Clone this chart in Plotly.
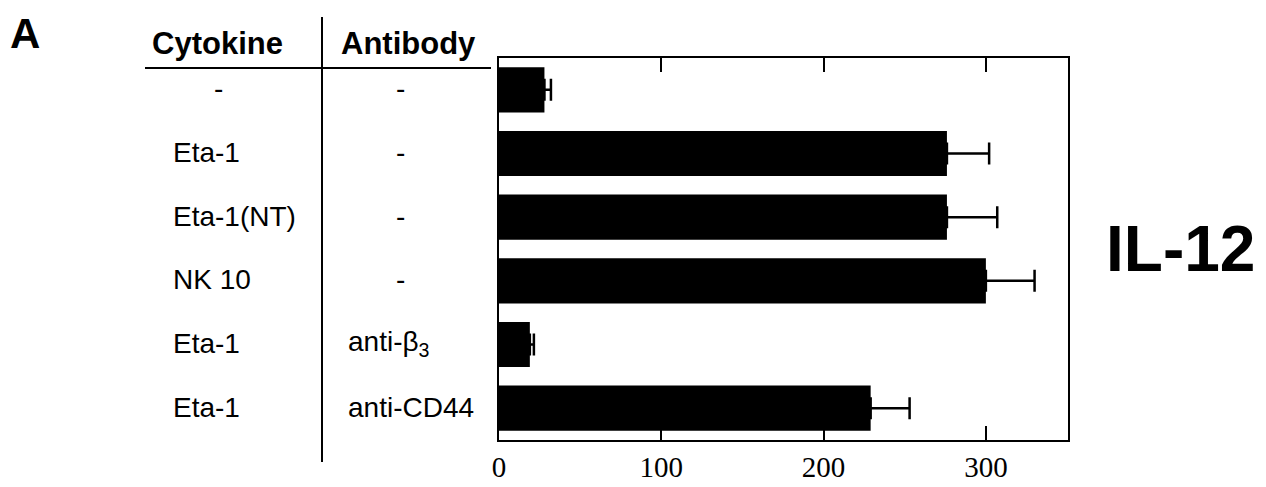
import plotly.graph_objects as go

# ---- data ----
cytokines = ["-", "Eta-1", "Eta-1(NT)", "NK 10", "Eta-1", "Eta-1"]
antibodies = ["-", "-", "-", "-", "anti-β<sub>3</sub>", "anti-CD44"]
values = [28, 276, 276, 300, 19, 229]
errors = [4, 26, 31, 30, 2.5, 24]
x_ticks = [0, 100, 200, 300]
row_ids = [f"{c} / {a} #{i}" for i, (c, a) in enumerate(zip(cytokines, antibodies))]

W, H = 1266, 487
L, R, T, B = 499, 1068, 58, 440  # plot area in pixels


def px(x):
    return (x - L) / (R - L)


def py(y):
    return (B - y) / (B - T)


SANS = "Liberation Sans, Arial, sans-serif"
SERIF = "Liberation Serif, Times New Roman, serif"

fig = go.Figure()
fig.add_trace(go.Bar(
    x=values, y=row_ids, orientation="h",
    marker=dict(color="black", line=dict(width=0)),
    width=0.71,
    error_x=dict(type="data", array=errors, arrayminus=[0] * len(errors),
                 symmetric=False, color="black", thickness=2.5, width=11),
    showlegend=False, hoverinfo="x",
))

annotations = []
# row labels
for rid, c, a in zip(row_ids, cytokines, antibodies):
    if c == "-":
        annotations.append(dict(x=px(218), xref="paper", y=rid, yref="y", text=c,
                                showarrow=False, xanchor="center", yshift=1,
                                font=dict(family=SANS, size=28, color="black")))
    else:
        annotations.append(dict(x=px(171), xref="paper", y=rid, yref="y", text=c,
                                showarrow=False, xanchor="left", yshift=1,
                                font=dict(family=SANS, size=28, color="black")))
    if a == "-":
        annotations.append(dict(x=px(400), xref="paper", y=rid, yref="y", text=a,
                                showarrow=False, xanchor="center", yshift=1,
                                font=dict(family=SANS, size=28, color="black")))
    else:
        annotations.append(dict(x=px(346), xref="paper", y=rid, yref="y", text=a,
                                showarrow=False, xanchor="left", yshift=1,
                                font=dict(family=SANS, size=28, color="black")))

# headers
annotations.append(dict(x=px(217), xref="paper", y=py(44), yref="paper", text="<b>Cytokine</b>",
                        showarrow=False, xanchor="center", yanchor="middle",
                        font=dict(family=SANS, size=31, color="black")))
annotations.append(dict(x=px(408), xref="paper", y=py(44), yref="paper", text="<b>Antibody</b>",
                        showarrow=False, xanchor="center", yanchor="middle",
                        font=dict(family=SANS, size=31, color="black")))
annotations.append(dict(x=px(25), xref="paper", y=py(33), yref="paper", text="<b>A</b>",
                        showarrow=False, xanchor="center", yanchor="middle",
                        font=dict(family=SANS, size=42, color="black")))
annotations.append(dict(x=px(1180), xref="paper", y=py(249), yref="paper", text="<b>IL-12</b>",
                        showarrow=False, xanchor="center", yanchor="middle",
                        font=dict(family=SANS, size=64, color="black")))

shapes = [
    dict(type="line", xref="paper", yref="paper", x0=px(322), x1=px(322), y0=py(17), y1=py(462),
         line=dict(color="black", width=2)),
    dict(type="line", xref="paper", yref="paper", x0=px(145), x1=px(491), y0=py(68), y1=py(68),
         line=dict(color="black", width=2)),
]

fig.update_layout(
    template="none",
    width=W, height=H,
    margin=dict(l=L, r=W - R, t=T, b=H - B, pad=0, autoexpand=False),
    paper_bgcolor="white", plot_bgcolor="white",
    annotations=annotations, shapes=shapes,
    bargap=0.29,
)
fig.update_xaxes(
    range=[0, 350.6], tickvals=x_ticks, ticktext=[str(v) for v in x_ticks],
    ticks="inside", ticklen=14, tickwidth=2, tickcolor="black",
    showline=True, linecolor="black", linewidth=2, mirror="allticks",
    showgrid=False, zeroline=False, ticklabelstandoff=0, automargin=False,
    tickfont=dict(family=SERIF, size=29, color="black"),
)
fig.update_yaxes(
    categoryorder="array", categoryarray=row_ids, autorange="reversed",
    showticklabels=False, ticks="", automargin=False,
    showline=True, linecolor="black", linewidth=2, mirror=True,
    showgrid=False, zeroline=False,
)

fig.write_html("out.html")
